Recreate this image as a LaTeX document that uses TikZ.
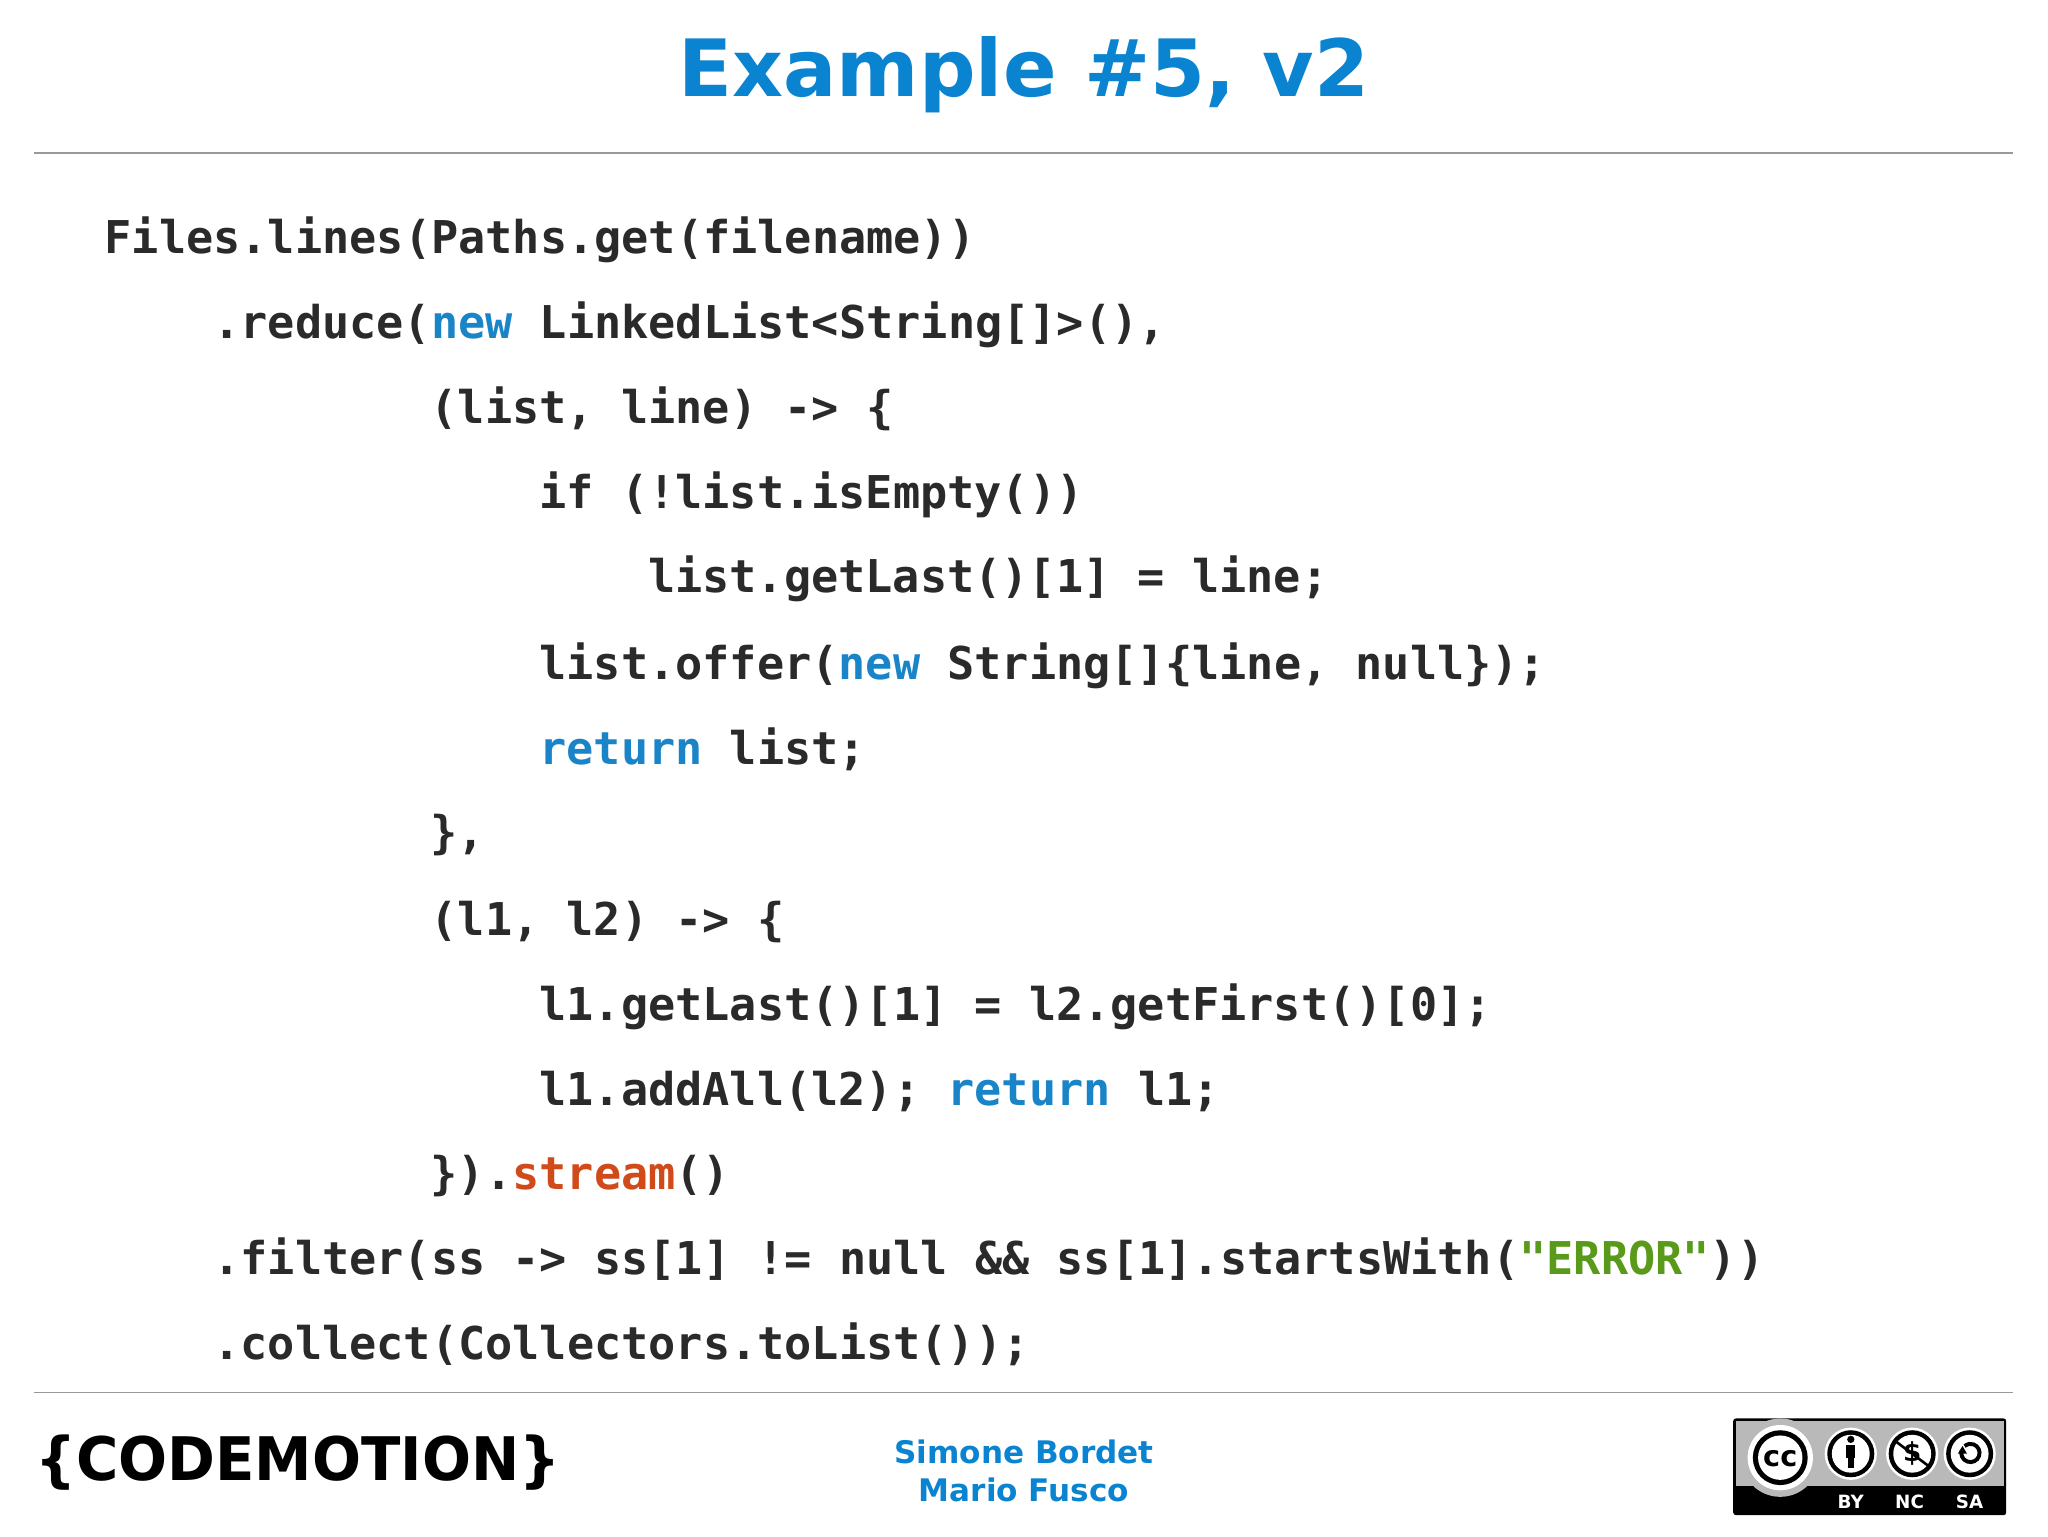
\documentclass[tikz,border=0pt]{standalone}
\usepackage{fontspec}
\setmainfont{DejaVu Sans}
\setmonofont{DejaVu Sans Mono}
\definecolor{kw}{HTML}{1A84C8}
\definecolor{ttl}{HTML}{0A84D0}
\definecolor{st}{HTML}{D04A1A}
\definecolor{gr}{HTML}{5A9A1A}
\definecolor{txt}{HTML}{2A2A2A}
\begin{document}
\begin{tikzpicture}[x=1pt,y=-1pt,
  code/.style={anchor=base west,inner sep=0,font=\fontsize{34.6}{40}\ttfamily\bfseries,text=txt},
  rule/.style={draw=gray!80,line width=1.2pt}]
\useasboundingbox[fill=white] (0,0) rectangle (1568,1176);
\node[font=\fontsize{60.5}{66}\selectfont\bfseries,text=ttl] (title) at (784,57) {Example \#5, v2};
\draw[rule] (26,117) -- (1541,117);
\draw[rule] (26,1066) -- (1541,1066);
\node[code] (l1) at (80,194) {Files.lines(Paths.get(filename))};
\node[code] (l2) at (163.2,259) {.reduce(\textcolor{kw}{new} LinkedList<String[]>(),};
\node[code] (l3) at (329.6,324) {(list, line) -> \{};
\node[code] (l4) at (412.8,389) {if (!list.isEmpty())};
\node[code] (l5) at (496,454) {list.getLast()[1] = line;};
\node[code] (l6) at (412.8,520) {list.offer(\textcolor{kw}{new} String[]\{line, null\});};
\node[code] (l7) at (412.8,585) {\textcolor{kw}{return} list;};
\node[code] (l8) at (329.6,650) {\},};
\node[code] (l9) at (329.6,716) {(l1, l2) -> \{};
\node[code] (l10) at (412.8,781) {l1.getLast()[1] = l2.getFirst()[0];};
\node[code] (l11) at (412.8,846) {l1.addAll(l2); \textcolor{kw}{return} l1;};
\node[code] (l12) at (329.6,911) {\}).\textcolor{st}{stream}()};
\node[code] (l13) at (163.2,976) {.filter(ss -> ss[1] != null \&\& ss[1].startsWith(\textcolor{gr}{"ERROR"}))};
\node[code] (l14) at (163.2,1041) {.collect(Collectors.toList());};
% authors
\node[font=\fontsize{23.8}{29}\selectfont\bfseries,text=ttl,align=center] (auth) at (784,1126) {Simone Bordet\\Mario Fusco};
% logo
\node[font=\fontsize{46}{50}\selectfont\bfseries,inner sep=0] (logo) at (228,1120) {\scalebox{0.96}[1]{\{CODEMOTION\}}};
% CC badge
\fill[black,rounded corners=2pt] (1327,1086) rectangle (1536,1160);
\fill[gray!55] (1329,1088) rectangle (1534,1138);
\fill[gray!55] (1363,1116) circle (30);
\fill[white] (1363,1116) circle (25);
\fill[black] (1363,1116) circle (21);
\fill[white] (1363,1116) circle (17);
\node[font=\fontsize{22}{22}\selectfont\bfseries] (cc) at (1363,1117) {cc};
\foreach \x/\n in {1417/by,1464/nc,1508/sa}{
  \fill[white] (\x,1113) circle (20);
  \fill[black] (\x,1113) circle (18);
  \fill[white] (\x,1113) circle (14.5);
}
\fill[black] (1417,1102) circle (2.8);
\fill[black] (1413.5,1106) rectangle (1420.5,1116);
\fill[black] (1414.5,1116) rectangle (1419.5,1124);
\node[font=\fontsize{20}{20}\selectfont\bfseries] (dol) at (1464,1113) {\$};
\draw[black,line width=2pt] (1452,1104) -- (1476,1122);
\draw[black,line width=3pt] (1502,1110) arc (200:-130:7);
\fill[black] (1499,1113) -- (1506,1113) -- (1502.5,1107) -- cycle;
\foreach \x/\t in {1417/BY,1462/NC,1508/SA}
  \node[text=white,font=\fontsize{14}{14}\selectfont\bfseries] (lab\t) at (\x,1150) {\t};
\end{tikzpicture}
\end{document}
